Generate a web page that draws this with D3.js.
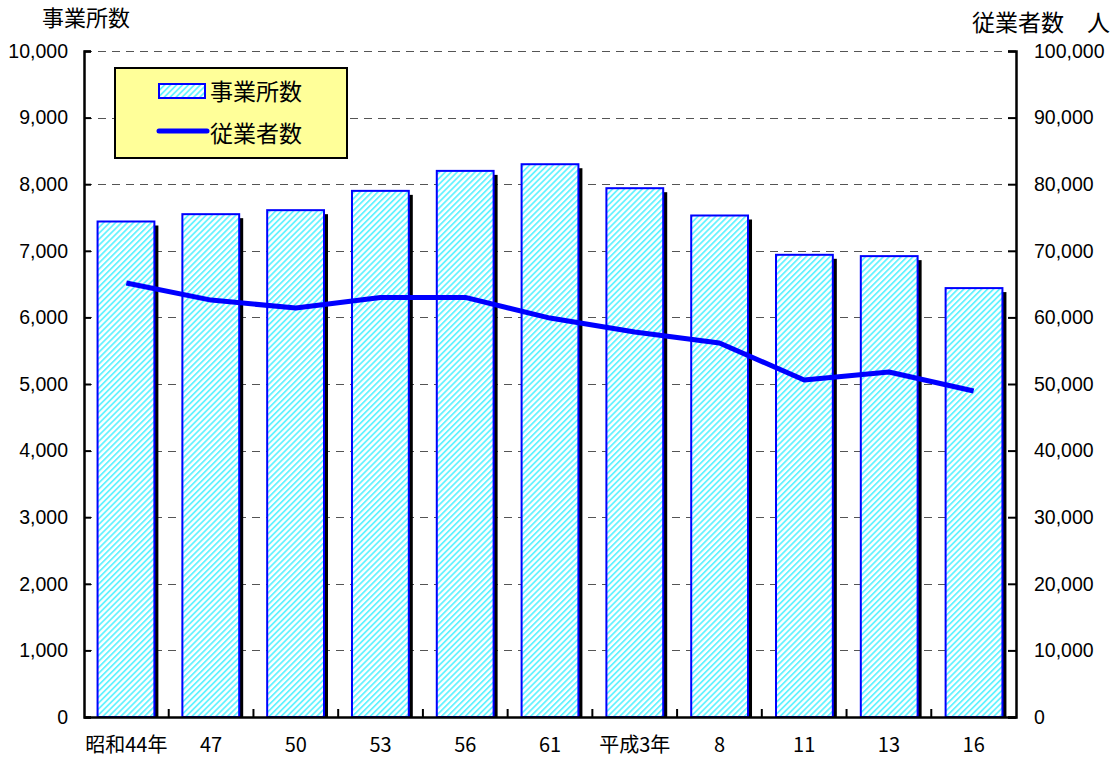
<!DOCTYPE html>
<html>
<head>
<meta charset="utf-8">
<script src="https://cdn.jsdelivr.net/npm/d3@7"></script>
<style>
body { margin: 0; background: #fff; }
text { font-family: "Noto Sans CJK JP", "Noto Sans", sans-serif; }
</style>
</head>
<body>
<div id="chart"></div>
<script>
'use strict'

// data
const years = ['昭和44年', '47', '50', '53', '56', '61', '平成3年', '8', '11', '13', '16']
const offices = [7440, 7550, 7610, 7900, 8200, 8300, 7940, 7530, 6940, 6920, 6440]
const workers = [65170, 62600, 61400, 63000, 63000, 59900, 57800, 56150, 50600, 51800, 48950]
const leftTicks = [0, 1000, 2000, 3000, 4000, 5000, 6000, 7000, 8000, 9000, 10000]
const rightTicks = [0, 10000, 20000, 30000, 40000, 50000, 60000, 70000, 80000, 90000, 100000]

const svgWidth = 1118, svgHeight = 760
const margin = { left: 84, right: 102, top: 51, bottom: 43 }
const width = svgWidth - margin.left - margin.right
const height = svgHeight - margin.top - margin.bottom

const svg = d3.select('#chart').append('svg')
    .attr('width', svgWidth)
    .attr('height', svgHeight)

// hatch pattern for the bars
const defs = svg.append('defs')
const pat = defs.append('pattern')
    .attr('id', 'hatch')
    .attr('patternUnits', 'userSpaceOnUse')
    .attr('width', 4.2).attr('height', 4.2)
    .attr('patternTransform', 'rotate(45)')
pat.append('rect').attr('width', 4.2).attr('height', 4.2).attr('fill', '#ffffff')
pat.append('rect').attr('width', 1.8).attr('height', 4.2).attr('fill', '#66f2ff')

const g = svg.append('g').attr('transform', `translate(${margin.left},${margin.top})`)

const x = d3.scaleBand().domain(years).range([0, width]).paddingInner(0.33).paddingOuter(0.16)
const xc = d3.scaleBand().domain(years).range([0, width])
const yL = d3.scaleLinear().domain([0, 10000]).range([height, 0])
const yR = d3.scaleLinear().domain([0, 100000]).range([height, 0])

// dashed gridlines
g.append('g')
    .selectAll('line')
    .data(leftTicks.filter(d => d > 0))
    .join('line')
    .attr('x1', 0).attr('x2', width)
    .attr('y1', d => Math.round(yL(d)) + 0.5).attr('y2', d => Math.round(yL(d)) + 0.5)
    .attr('stroke', '#555')
    .attr('stroke-dasharray', '8,6')

// bar shadows
g.append('g')
    .selectAll('rect')
    .data(offices)
    .join('rect')
    .attr('x', (d, i) => x(years[i]) + 4)
    .attr('y', d => yL(d) + 4)
    .attr('width', x.bandwidth())
    .attr('height', d => height - yL(d) - 4)
    .attr('fill', '#000')

// bars
g.append('g')
    .selectAll('rect')
    .data(offices)
    .join('rect')
    .attr('x', (d, i) => x(years[i]))
    .attr('y', d => yL(d))
    .attr('width', x.bandwidth())
    .attr('height', d => height - yL(d))
    .attr('fill', 'url(#hatch)')
    .attr('stroke', '#0000ff')
    .attr('stroke-width', 2)

// workers line
const line = d3.line()
    .x((d, i) => xc(years[i]) + xc.bandwidth() / 2)
    .y(d => yR(d))
g.append('path')
    .datum(workers)
    .attr('d', line)
    .attr('fill', 'none')
    .attr('stroke', '#0000ff')
    .attr('stroke-width', 5)
    .attr('stroke-linejoin', 'round')

// axes
const fmt = d3.format(',')
const left = g.append('g')
    .call(d3.axisLeft(yL).tickValues(leftTicks).tickFormat(fmt).tickSize(-7).tickPadding(16))
const right = g.append('g')
    .attr('transform', `translate(${width},0)`)
    .call(d3.axisRight(yR).tickValues(rightTicks).tickFormat(fmt).tickSize(-8).tickPadding(18))
const bottom = g.append('g')
    .attr('transform', `translate(0,${height})`)
    .call(d3.axisBottom(xc).tickValues([]).tickSize(0))

// bottom ticks between categories
g.append('g')
    .selectAll('line')
    .data(years.slice(1))
    .join('line')
    .attr('x1', d => xc(d)).attr('x2', d => xc(d))
    .attr('y1', height).attr('y2', height - 8)
    .attr('stroke', '#000').attr('stroke-width', 2)

;[left, right, bottom].forEach(a => {
    a.select('.domain').attr('stroke', '#000').attr('stroke-width', 2.5)
    a.selectAll('.tick line').attr('stroke', '#000').attr('stroke-width', 2)
    a.selectAll('text').attr('font-size', 19.5).attr('fill', '#000')
        .style('font-family', '"Liberation Sans", Arial, sans-serif')
})

// category labels
g.append('g')
    .selectAll('text')
    .data(years)
    .join('text')
    .attr('x', d => xc(d) + xc.bandwidth() / 2)
    .attr('y', height + 35)
    .attr('text-anchor', 'middle')
    .attr('font-size', 20)
    .text(d => d)

// axis titles
svg.append('text').attr('x', 42).attr('y', 26).attr('font-size', 22).text('事業所数')
svg.append('text').attr('x', 1110).attr('y', 31).attr('text-anchor', 'end').attr('font-size', 23)
    .text('従業者数\u3000人')

// legend
const lg = svg.append('g').attr('transform', 'translate(115,68)')
lg.append('rect').attr('width', 232).attr('height', 90)
    .attr('fill', '#ffff99').attr('stroke', '#000').attr('stroke-width', 2)
lg.append('rect').attr('x', 44).attr('y', 16).attr('width', 46).attr('height', 14)
    .attr('fill', 'url(#hatch)').attr('stroke', '#0000ff').attr('stroke-width', 2)
lg.append('line').attr('x1', 44).attr('x2', 92).attr('y1', 63).attr('y2', 63)
    .attr('stroke', '#0000ff').attr('stroke-width', 5).attr('stroke-linecap', 'round')
lg.append('text').attr('x', 95).attr('y', 32).attr('font-size', 23).text('事業所数')
lg.append('text').attr('x', 95).attr('y', 74).attr('font-size', 23).text('従業者数')
</script>
</body>
</html>
